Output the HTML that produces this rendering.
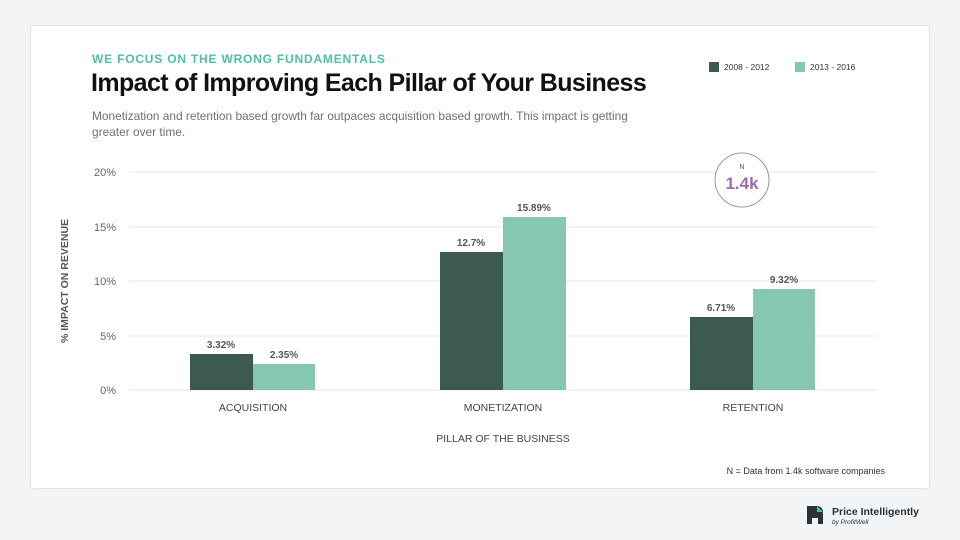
<!DOCTYPE html>
<html><head><style>
body{margin:0;width:960px;height:540px;background:#f3f4f6;font-family:"Liberation Sans",sans-serif;position:relative;overflow:hidden}
.card{position:absolute;left:30px;top:25px;width:898px;height:462px;background:#fff;border:1px solid #e1e3e6;border-radius:3px}
.t{position:absolute;white-space:nowrap}
</style></head><body>
<div class="card"></div>
<div class="t" style="left:92px;top:52px;font-size:12px;font-weight:bold;color:#4dbfa3;letter-spacing:0.8px">WE FOCUS ON THE WRONG FUNDAMENTALS</div>
<div class="t" style="left:91px;top:69px;font-size:25px;font-weight:bold;color:#111;letter-spacing:-0.6px">Impact of Improving Each Pillar of Your Business</div>
<div class="t" style="left:92px;top:108px;font-size:11.9px;color:#6b7177;line-height:16px">Monetization and retention based growth far outpaces acquisition based growth. This impact is getting<br>greater over time.</div>
<div style="position:absolute;left:709px;top:62px;width:10px;height:10px;background:#3d5a51"></div>
<div class="t" style="left:724px;top:62px;font-size:8.5px;color:#333">2008 - 2012</div>
<div style="position:absolute;left:795px;top:62px;width:10px;height:10px;background:#86c7b3"></div>
<div class="t" style="left:810px;top:62px;font-size:8.5px;color:#333">2013 - 2016</div>
<svg width="960" height="540" style="position:absolute;left:0;top:0" font-family="Liberation Sans, sans-serif">
<g stroke="#eeeff1" stroke-width="1.5">
<line x1="129" x2="877" y1="172" y2="172"/><line x1="129" x2="877" y1="227" y2="227"/><line x1="129" x2="877" y1="281" y2="281"/><line x1="129" x2="877" y1="336" y2="336"/><line x1="129" x2="877" y1="390" y2="390"/>
</g>
<g font-size="11" fill="#666" text-anchor="end">
<text x="116" y="176">20%</text><text x="116" y="231">15%</text><text x="116" y="285">10%</text><text x="116" y="340">5%</text><text x="116" y="394">0%</text>
</g>
<text transform="translate(68,281) rotate(-90)" text-anchor="middle" font-size="10.5" font-weight="bold" fill="#555">% IMPACT ON REVENUE</text>
<g fill="#3d5a51"><rect x="190" y="354" width="63" height="36"/><rect x="440" y="252" width="63" height="138"/><rect x="690" y="317" width="63" height="73"/></g>
<g fill="#86c7b3"><rect x="253" y="364" width="62" height="26"/><rect x="503" y="217" width="63" height="173"/><rect x="753" y="289" width="62" height="101"/></g>
<g font-size="10" font-weight="bold" fill="#555" text-anchor="middle">
<text x="221" y="348">3.32%</text><text x="284" y="358">2.35%</text>
<text x="471" y="246">12.7%</text><text x="534" y="211">15.89%</text>
<text x="721" y="311">6.71%</text><text x="784" y="283">9.32%</text>
</g>
<g font-size="10.5" fill="#444" text-anchor="middle">
<text x="253" y="411">ACQUISITION</text><text x="503" y="411">MONETIZATION</text><text x="753" y="411">RETENTION</text>
</g>
<text x="503" y="442" text-anchor="middle" font-size="10.5" fill="#444">PILLAR OF THE BUSINESS</text>
<circle cx="742" cy="180" r="27" fill="#fff" stroke="#999" stroke-width="1"/>
<text x="742" y="169" text-anchor="middle" font-size="7" fill="#555">N</text>
<text x="742" y="189" text-anchor="middle" font-size="17" font-weight="bold" fill="#9b6bb0">1.4k</text>
<text x="885" y="474" text-anchor="end" font-size="9" fill="#333">N = Data from 1.4k software companies</text>
<path d="M807 506h10a6 6 0 0 1 0 12h-5v6h-5z" fill="#27323a"/>
<rect x="818" y="514" width="5" height="10" fill="#27323a"/>
<path d="M817 506l6 6h-6z" fill="#4dbfa3"/>
<text x="832" y="515" font-size="10.5" font-weight="bold" fill="#27323a">Price Intelligently</text>
<text x="832" y="524" font-size="6.5" font-style="italic" fill="#27323a">by ProfitWell</text>
</svg>
</body></html>
